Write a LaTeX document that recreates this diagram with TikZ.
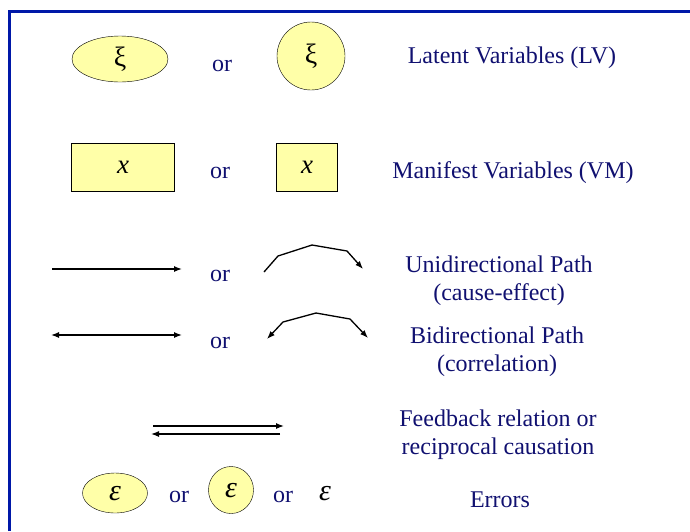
\documentclass[tikz,border=0pt]{standalone}
\usepackage{fontspec}
\setmainfont{Liberation Serif}
\usepackage{xcolor}
\usetikzlibrary{arrows.meta,positioning,shapes.geometric}
\definecolor{navytext}{RGB}{16,16,112}
\definecolor{framecol}{RGB}{0,24,168}
\definecolor{lvfill}{RGB}{255,255,168}
\newcommand{\errsym}{\raisebox{-7pt}[0pt][0pt]{ε}}
\tikzset{
  latent/.style={
    shape = ellipse,
    draw,
    fill = lvfill,
    inner sep = 0pt,
    font = \fontsize{28}{30}\selectfont
  },
  manifest/.style={
    shape = rectangle,
    draw,
    fill = lvfill,
    inner sep = 0pt,
    font = \fontsize{27}{29}\selectfont\itshape
  },
  ortxt/.style={
    text = navytext,
    font = \fontsize{24}{26}\selectfont
  },
  lbl/.style={
    text = navytext,
    align = center,
    font = \fontsize{24}{28}\selectfont
  },
  arr/.style={
    line width = 1.3pt,
    -{Latex[length=8pt,width=6pt]}
  },
  darr/.style={
    line width = 1.3pt,
    {Latex[length=8pt,width=6pt]}-{Latex[length=8pt,width=6pt]}
  }
}
\begin{document}
\begin{tikzpicture}[x=1pt,y=-1pt]
    \useasboundingbox (0,0) rectangle (690,531);
    \draw[framecol,line width=3pt] (9,531) -- (9,11) -- (690,11);
    % latent variables
    \node[latent, minimum width=96pt, minimum height=46pt] (lv1) at (120,59) {ξ};
    \node[ortxt] (or1) at (222,66) {or};
    \node[latent, minimum width=68pt, minimum height=68pt] (lv2) at (311,56) {ξ};
    \node[lbl] (lvtxt) at (512,58) {Latent Variables (LV)};
    % manifest variables
    \node[manifest, minimum width=103pt, minimum height=48pt] (mv1) at (123,167) {x};
    \node[ortxt] (or2) at (220,173) {or};
    \node[manifest, minimum width=61pt, minimum height=48pt] (mv2) at (307,167) {x};
    \node[lbl] (mvtxt) at (513,173) {Manifest Variables (VM)};
    % unidirectional
    \coordinate (u1) at (52,269);
    \coordinate (u2) at (182,269);
    \draw[arr] (u1) -- (u2);
    \node[ortxt] (or3) at (220,276) {or};
    \coordinate (ua) at (264,272);
    \coordinate (ub) at (278,256);
    \coordinate (uc) at (312,245);
    \coordinate (ud) at (347,251);
    \coordinate (ue) at (363,269);
    \draw[arr] (ua) -- (ub) -- (uc) -- (ud) -- (ue);
    \node[lbl] (uptxt) at (499,281) {Unidirectional Path\\(cause-effect)};
    % bidirectional
    \coordinate (b1) at (51,335);
    \coordinate (b2) at (182,335);
    \draw[darr] (b1) -- (b2);
    \node[ortxt] (or4) at (220,343) {or};
    \coordinate (ba) at (267,339);
    \coordinate (bb) at (283,322);
    \coordinate (bc) at (316,313);
    \coordinate (bd) at (350,319);
    \coordinate (be) at (368,338);
    \draw[darr] (ba) -- (bb) -- (bc) -- (bd) -- (be);
    \node[lbl] (bptxt) at (497,352) {Bidirectional Path\\(correlation)};
    % feedback
    \coordinate (f1) at (153,426);
    \coordinate (f2) at (284,426);
    \coordinate (f3) at (280,434);
    \coordinate (f4) at (151,434);
    \draw[arr] (f1) -- (f2);
    \draw[arr] (f3) -- (f4);
    \node[lbl] (fbtxt) at (498,435) {Feedback relation or\\reciprocal causation};
    % errors
    \node[latent, minimum width=65pt, minimum height=40pt, font=\fontsize{30}{32}\selectfont\itshape] (e1) at (115,493) {\errsym};
    \node[ortxt] (or5) at (179,497) {or};
    \node[latent, minimum width=45pt, minimum height=47pt, font=\fontsize{30}{32}\selectfont\itshape] (e2) at (231,490) {\errsym};
    \node[ortxt] (or6) at (283,497) {or};
    \node[font=\fontsize{30}{32}\selectfont\itshape] (e3) at (325,494) {ε};
    \node[lbl] (errtxt) at (500,500) {Errors};
\end{tikzpicture}
\end{document}
